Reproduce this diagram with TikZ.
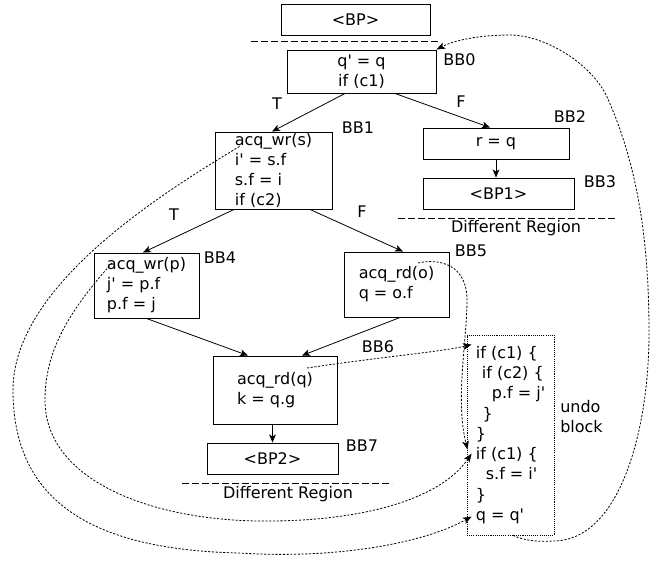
\documentclass[tikz,border=0pt]{standalone}
\usepackage{fontspec}
\setmainfont{DejaVu Sans}
\usetikzlibrary{arrows.meta,calc}
\newcommand{\ap}{\textquotesingle}
\begin{document}
\begin{tikzpicture}[x=0.75pt,y=-0.75pt,
  font=\fontsize{12pt}{15pt}\selectfont,
  bbox/.style 2 args={draw,line width=0.7pt,inner sep=0pt,align=left,
    minimum width=#1*0.75pt,minimum height=#2*0.75pt},
  lbl/.style={inner sep=0pt},
  arr/.style={line width=0.6pt,-{Stealth[length=6pt,width=5pt,inset=1.5pt]}},
  undoarr/.style={line width=0.6pt,dash pattern=on 1.6pt off 1.2pt,
    -{Stealth[length=6.5pt,width=5pt,inset=1.5pt]}},
  sep/.style={line width=0.6pt,dash pattern=on 5pt off 2.5pt}]
\useasboundingbox (0,0) rectangle (656,561);

% boxes
\node[bbox={149}{31}] (bp)  at (355.5,19.5) {<BP>};
\node[bbox={149}{43},align=center] (bb0) at (361.5,71.5) {q\ap{} = q\\if (c1)};
\node[bbox={117}{77}] (bb1) at (273.5,170.5) {acq\_wr(s)\\i\ap{} = s.f\\s.f = i\\if (c2)};
\node[bbox={146}{31}] (bb2) at (496,143.5) {r = q};
\node[bbox={151}{31}] (bb3) at (498.5,193.5) {<BP1>};
\node[bbox={105}{65}] (bb4) at (146.5,285.5) {acq\_wr(p)\\j\ap{} = p.f\\p.f = j};
\node[bbox={105}{65}] (bb5) at (396.5,284.5) {acq\_rd(o)\\q = o.f};
\node[bbox={124}{68}] (bb6) at (275,390) {acq\_rd(q)\\k = q.g};
\node[bbox={131}{31}] (bb7) at (272.5,458.5) {<BP2>};
\node[draw,line width=0.6pt,dash pattern=on 0.8pt off 0.8pt,inner sep=0pt,
  minimum width=87*0.75pt,minimum height=200*0.75pt,align=left,
  font=\fontsize{12pt}{15.2pt}\selectfont] (undo) at (510.5,435)
  {if (c1) \{\\\hspace*{4.5pt}if (c2) \{\\\hspace*{12pt}p.f = j\ap\\\hspace*{5pt}\}\\\}\\if (c1) \{\\\hspace*{7.5pt}s.f = i\ap\\\}\\q = q\ap};

% block labels
\node[lbl] (l0) at (459.5,60) {BB0};
\node[lbl] (l1) at (358,128) {BB1};
\node[lbl] (l2) at (570,117) {BB2};
\node[lbl] (l3) at (600,182) {BB3};
\node[lbl] (l4) at (220,258) {BB4};
\node[lbl] (l5) at (471,251) {BB5};
\node[lbl] (l6) at (378,347) {BB6};
\node[lbl] (l7) at (362,446) {BB7};
\node[lbl,anchor=west,align=left] (ul) at (560,417) {undo\\block};

% branch labels
\node[lbl] (t1) at (277,104) {T};
\node[lbl] (f1) at (461,102) {F};
\node[lbl] (t2) at (174,215) {T};
\node[lbl] (f2) at (362,212) {F};

% region separators
\draw[sep] (251,41) -- (440,41);
\draw[sep] (398,218) -- (617,218);
\node[lbl] (dr1) at (516,228) {Different Region};
\draw[sep] (182,483) -- (392,483);
\node[lbl] (dr2) at (288,494) {Different Region};

% control-flow edges
\draw[arr] ($(bb0.south)+(-16.5,0)$) -- ($(bb1.north)+(-1.5,0)$);
\draw[arr] ($(bb0.south)+(33.5,0)$) -- ($(bb2.north)+(-6,0)$);
\draw[arr] (bb2.south) -- (bb2.south |- bb3.north);
\draw[arr] ($(bb1.south)+(-39.5,0)$) -- ($(bb4.north)+(-3.5,0)$);
\draw[arr] ($(bb1.south)+(36.5,0)$) -- ($(bb5.north)+(6.5,0)$);
\draw[arr] (bb4.south) -- ($(bb6.north)+(-27,0)$);
\draw[arr] ($(bb5.south)+(3.5,0)$) -- ($(bb6.north)+(27,0)$);
\draw[arr] (bb7.north |- bb6.south) -- (bb7.north);

% undo links
\draw[undoarr] ($(bb6.center)+(32,-22)$) .. controls (380,357) and (440,352) .. ($(undo.north west)+(5,10)$);
\draw[undoarr] ($(bb5.center)+(21.5,-21.5)$) .. controls (440,258) and (467,265) .. (467,300)
  .. controls (467,340) and (455,400) .. ($(undo.north west)+(1,115)$);
\draw[undoarr] ($(bb4.center)+(-34.5,-22.5)$) .. controls (70,310) and (45,350) .. (45,400)
  .. controls (45,480) and (150,520) .. (260,521)
  .. controls (360,522) and (440,500) .. ($(undo.north west)+(5,119)$);
\draw[undoarr] ($(bb1.center)+(-34,-24)$) .. controls (150,200) and (13,290) .. (13,390)
  .. controls (13,500) and (90,550) .. (240,553)
  .. controls (330,559) and (420,545) .. ($(undo.north west)+(5,182)$);
\draw[undoarr] ($(undo.south)+(2.5,0)$) .. controls (525,541) and (540,542) .. (553,541)
  .. controls (620,541) and (649,430) .. (649,333)
  .. controls (649,250) and (640,170) .. (607,97)
  .. controls (592,64) and (545,35) .. (510,35)
  .. controls (480,35) and (455,40) .. (bb0.north east);
\end{tikzpicture}
\end{document}
